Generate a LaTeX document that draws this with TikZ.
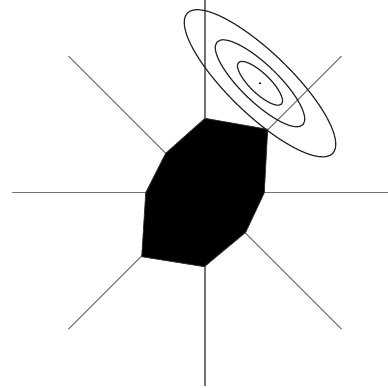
\documentclass[tikz,border=0pt]{standalone}
\begin{document}
\begin{tikzpicture}[x=0.01cm,y=-0.01cm,
  axis/.style={draw=black!55,line width=0.011cm},
  contour/.style={draw=black!85,line width=0.012cm},
  region/.style={fill=black,draw=black!80,line width=0.008cm,line join=round}]
\useasboundingbox (0,0) rectangle (388,388);
\clip (0,0) rectangle (388,388);
\coordinate (O) at (205,192.7);
\coordinate (C) at (260,83.3);
% rays
\foreach \a in {0,45,...,315}{
  \draw[axis] (O) -- ++({193*cos(\a)},{193*sin(\a)});
}
% polygon
\path[region] (205,118.3) -- (267.7,129.3) -- (264.3,192.7) -- (245.7,232.3)
  -- (204.3,266.7) -- (141.7,256.7) -- (145.7,192.7) -- (165.7,153.3) -- cycle;
% contours
\draw[contour,rotate around={-44:(C)}] (C) ellipse [x radius=101,y radius=31];
\draw[contour,rotate around={-44:(C)}] (C) ellipse [x radius=59.6,y radius=18.5];
\draw[contour,rotate around={-44:(C)}] (C) ellipse [x radius=29.8,y radius=10];
\fill[black] (C) circle [radius=1.1];
\end{tikzpicture}
\end{document}
